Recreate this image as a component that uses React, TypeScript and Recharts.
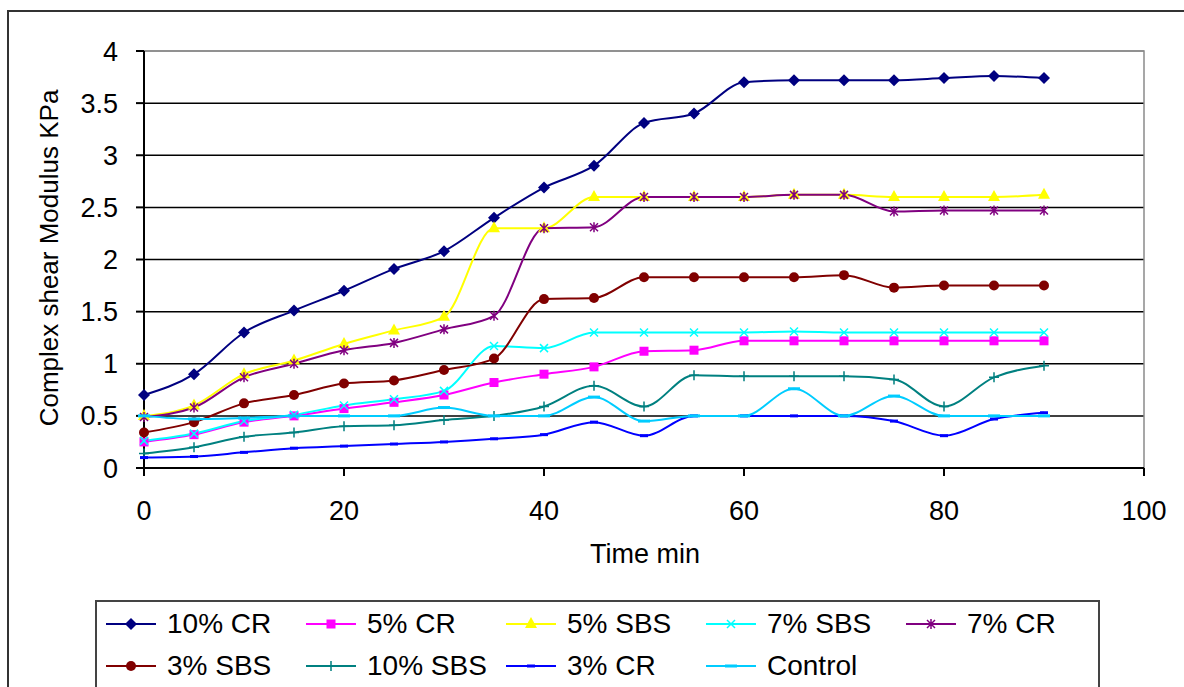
import { LineChart, Line, XAxis, YAxis, CartesianGrid, ReferenceArea, Label } from 'recharts';

// sampling times (min)
const time = [0, 5, 10, 15, 20, 25, 30, 35, 40, 45, 50, 55, 60, 65, 70, 75, 80, 85, 90];

// complex shear modulus (kPa) per blend
const cr10 = [0.7, 0.9, 1.3, 1.51, 1.7, 1.91, 2.08, 2.4, 2.69, 2.9, 3.31, 3.4, 3.7, 3.72, 3.72, 3.72, 3.74, 3.76, 3.74];
const cr5 = [0.25, 0.32, 0.44, 0.5, 0.57, 0.63, 0.7, 0.82, 0.9, 0.97, 1.12, 1.13, 1.22, 1.22, 1.22, 1.22, 1.22, 1.22, 1.22];
const sbs5 = [0.5, 0.6, 0.9, 1.03, 1.19, 1.32, 1.45, 2.3, 2.3, 2.6, 2.6, 2.6, 2.6, 2.62, 2.62, 2.6, 2.6, 2.6, 2.62];
const sbs7 = [0.26, 0.33, 0.45, 0.51, 0.6, 0.66, 0.74, 1.17, 1.15, 1.3, 1.3, 1.3, 1.3, 1.31, 1.3, 1.3, 1.3, 1.3, 1.3];
const cr7 = [0.49, 0.58, 0.87, 1.0, 1.13, 1.2, 1.33, 1.46, 2.3, 2.31, 2.6, 2.6, 2.6, 2.62, 2.62, 2.46, 2.47, 2.47, 2.47];
const sbs3 = [0.34, 0.44, 0.62, 0.7, 0.81, 0.84, 0.94, 1.05, 1.62, 1.63, 1.83, 1.83, 1.83, 1.83, 1.85, 1.73, 1.75, 1.75, 1.75];
const sbs10 = [0.14, 0.2, 0.3, 0.34, 0.4, 0.41, 0.46, 0.5, 0.59, 0.79, 0.59, 0.89, 0.88, 0.88, 0.88, 0.85, 0.59, 0.87, 0.98];
const cr3 = [0.1, 0.11, 0.15, 0.19, 0.21, 0.23, 0.25, 0.28, 0.32, 0.44, 0.31, 0.5, 0.5, 0.5, 0.5, 0.45, 0.31, 0.47, 0.53];
const control = [0.5, 0.47, 0.48, 0.5, 0.5, 0.5, 0.58, 0.5, 0.5, 0.68, 0.45, 0.5, 0.5, 0.76, 0.5, 0.69, 0.5, 0.5, 0.5];

const xTicks = [0, 20, 40, 60, 80, 100];
const yTicks = [0, 0.5, 1, 1.5, 2, 2.5, 3, 3.5, 4];

type Shape = 'diamond' | 'square' | 'triangle' | 'cross' | 'star' | 'circle' | 'plus' | 'dash' | 'longDash';

const series: { key: string; name: string; color: string; shape: Shape; values: number[] }[] = [
  { key: 'cr10', name: '10% CR', color: '#000080', shape: 'diamond', values: cr10 },
  { key: 'cr5', name: '5% CR', color: '#FF00FF', shape: 'square', values: cr5 },
  { key: 'sbs5', name: '5% SBS', color: '#FFFF00', shape: 'triangle', values: sbs5 },
  { key: 'sbs7', name: '7% SBS', color: '#00FFFF', shape: 'cross', values: sbs7 },
  { key: 'cr7', name: '7% CR', color: '#800080', shape: 'star', values: cr7 },
  { key: 'sbs3', name: '3% SBS', color: '#800000', shape: 'circle', values: sbs3 },
  { key: 'sbs10', name: '10% SBS', color: '#008080', shape: 'plus', values: sbs10 },
  { key: 'cr3', name: '3% CR', color: '#0000FF', shape: 'dash', values: cr3 },
  { key: 'control', name: 'Control', color: '#00CCFF', shape: 'longDash', values: control },
];

const rows = time.map((t, i) => {
  const row: Record<string, number> = { t };
  series.forEach((s) => (row[s.key] = s.values[i]));
  return row;
});

const FONT = '"Liberation Sans", Arial, sans-serif';

function Marker({ shape, color, x, y }: { shape: Shape; color: string; x: number; y: number }) {
  switch (shape) {
    case 'diamond':
      return <polygon points={`${x},${y - 6} ${x + 6},${y} ${x},${y + 6} ${x - 6},${y}`} fill={color} />;
    case 'square':
      return <rect x={x - 4.5} y={y - 4.5} width={9} height={9} fill={color} />;
    case 'triangle':
      return <polygon points={`${x},${y - 7} ${x + 6},${y + 4} ${x - 6},${y + 4}`} fill={color} />;
    case 'cross':
      return <path d={`M${x - 4},${y - 4}L${x + 4},${y + 4}M${x - 4},${y + 4}L${x + 4},${y - 4}`} stroke={color} strokeWidth={1.5} fill="none" />;
    case 'star':
      return (
        <path
          d={`M${x - 4},${y - 4}L${x + 4},${y + 4}M${x - 4},${y + 4}L${x + 4},${y - 4}M${x},${y - 5}L${x},${y + 5}`}
          stroke={color}
          strokeWidth={1.5}
          fill="none"
        />
      );
    case 'circle':
      return <circle cx={x} cy={y} r={5} fill={color} />;
    case 'plus':
      return <path d={`M${x - 5},${y}L${x + 5},${y}M${x},${y - 5}L${x},${y + 5}`} stroke={color} strokeWidth={1.5} fill="none" />;
    case 'dash':
      return <rect x={x - 4} y={y - 1.5} width={8} height={3} fill={color} />;
    default:
      return <rect x={x - 6} y={y - 1.5} width={12} height={3} fill={color} />;
  }
}

function LegendBox() {
  return (
    <div
      style={{
        position: 'absolute',
        left: 95,
        top: 600,
        width: 1001,
        height: 120,
        border: '2px solid #444',
        background: '#fff',
      }}
    >
      {series.map((s, i) => {
        const col = i < 5 ? i : i - 5;
        const rowY = i < 5 ? 22 : 64;
        return (
          <div
            key={s.key}
            style={{
              position: 'absolute',
              left: 8 + col * 200,
              top: rowY - 17,
              height: 34,
              display: 'flex',
              alignItems: 'center',
              whiteSpace: 'nowrap',
            }}
          >
            <svg width={52} height={20} style={{ marginRight: 10 }}>
              <line x1={1} x2={51} y1={10} y2={10} stroke={s.color} strokeWidth={2} />
              <Marker shape={s.shape} color={s.color} x={26} y={10} />
            </svg>
            <span style={{ fontFamily: FONT, fontSize: 28, color: '#000' }}>{s.name}</span>
          </div>
        );
      })}
    </div>
  );
}

// gridlines are black, except the top one which sits on the grey plot frame
const gridLine = (p: any) => (
  <line
    key={`grid-${p.index ?? p.y1}`}
    x1={p.x1}
    x2={p.x2}
    y1={p.y1}
    y2={p.y2}
    stroke={p.y1 < 60 ? '#8a8a8a' : '#000'}
    strokeWidth={1.5}
  />
);

export default function App() {
  const tickStyle = { fill: '#000', fontSize: 27, fontFamily: FONT };
  return (
    <div style={{ position: 'absolute', left: 0, top: 0, width: 1184, height: 687, overflow: 'hidden', background: '#fff' }}>
      <div
        style={{
          position: 'absolute',
          left: 7,
          top: 10,
          width: 1300,
          height: 800,
          borderLeft: '2px solid #333',
          borderTop: '2px solid #333',
        }}
      />
      <div style={{ position: 'absolute', left: 0, top: 0 }}>
        <LineChart width={1184} height={687} data={rows} margin={{ top: 51, right: 40, left: 44, bottom: 159 }}>
          <ReferenceArea x1={0} x2={100} y1={0} y2={4} fill="none" stroke="#8a8a8a" strokeWidth={1.5} ifOverflow="visible" />
          <CartesianGrid vertical={false} horizontal={gridLine} stroke="#000" strokeWidth={1.5} />
          <XAxis
            dataKey="t"
            type="number"
            domain={[0, 100]}
            ticks={xTicks}
            tick={tickStyle}
            tickSize={8}
            tickMargin={25}
            height={60}
            axisLine={{ stroke: '#000', strokeWidth: 2 }}
            tickLine={{ stroke: '#000', strokeWidth: 2 }}
          >
            <Label
              content={() => (
                <text x={645} y={563} textAnchor="middle" fontSize={27} fontFamily={FONT} fill="#000">
                  Time min
                </text>
              )}
            />
          </XAxis>
          <YAxis
            type="number"
            domain={[0, 4]}
            ticks={yTicks}
            tick={tickStyle}
            tickSize={8}
            tickMargin={18}
            width={100}
            axisLine={{ stroke: '#000', strokeWidth: 2 }}
            tickLine={{ stroke: '#000', strokeWidth: 2 }}
            interval={0}
          >
            <Label
              content={() => (
                <text
                  x={58}
                  y={258}
                  transform="rotate(-90 58 258)"
                  textAnchor="middle"
                  fontSize={26}
                  fontFamily={FONT}
                  fill="#000"
                >
                  Complex shear Modulus KPa
                </text>
              )}
            />
          </YAxis>
          {series.map((s) => (
            <Line
              key={s.key}
              dataKey={s.key}
              name={s.name}
              type="monotone"
              stroke={s.color}
              strokeWidth={2}
              isAnimationActive={false}
              activeDot={false}
              dot={(p: any) => <Marker key={`${s.key}-${p.index}`} shape={s.shape} color={s.color} x={p.cx} y={p.cy} />}
            />
          ))}
        </LineChart>
      </div>
      <LegendBox />
    </div>
  );
}
